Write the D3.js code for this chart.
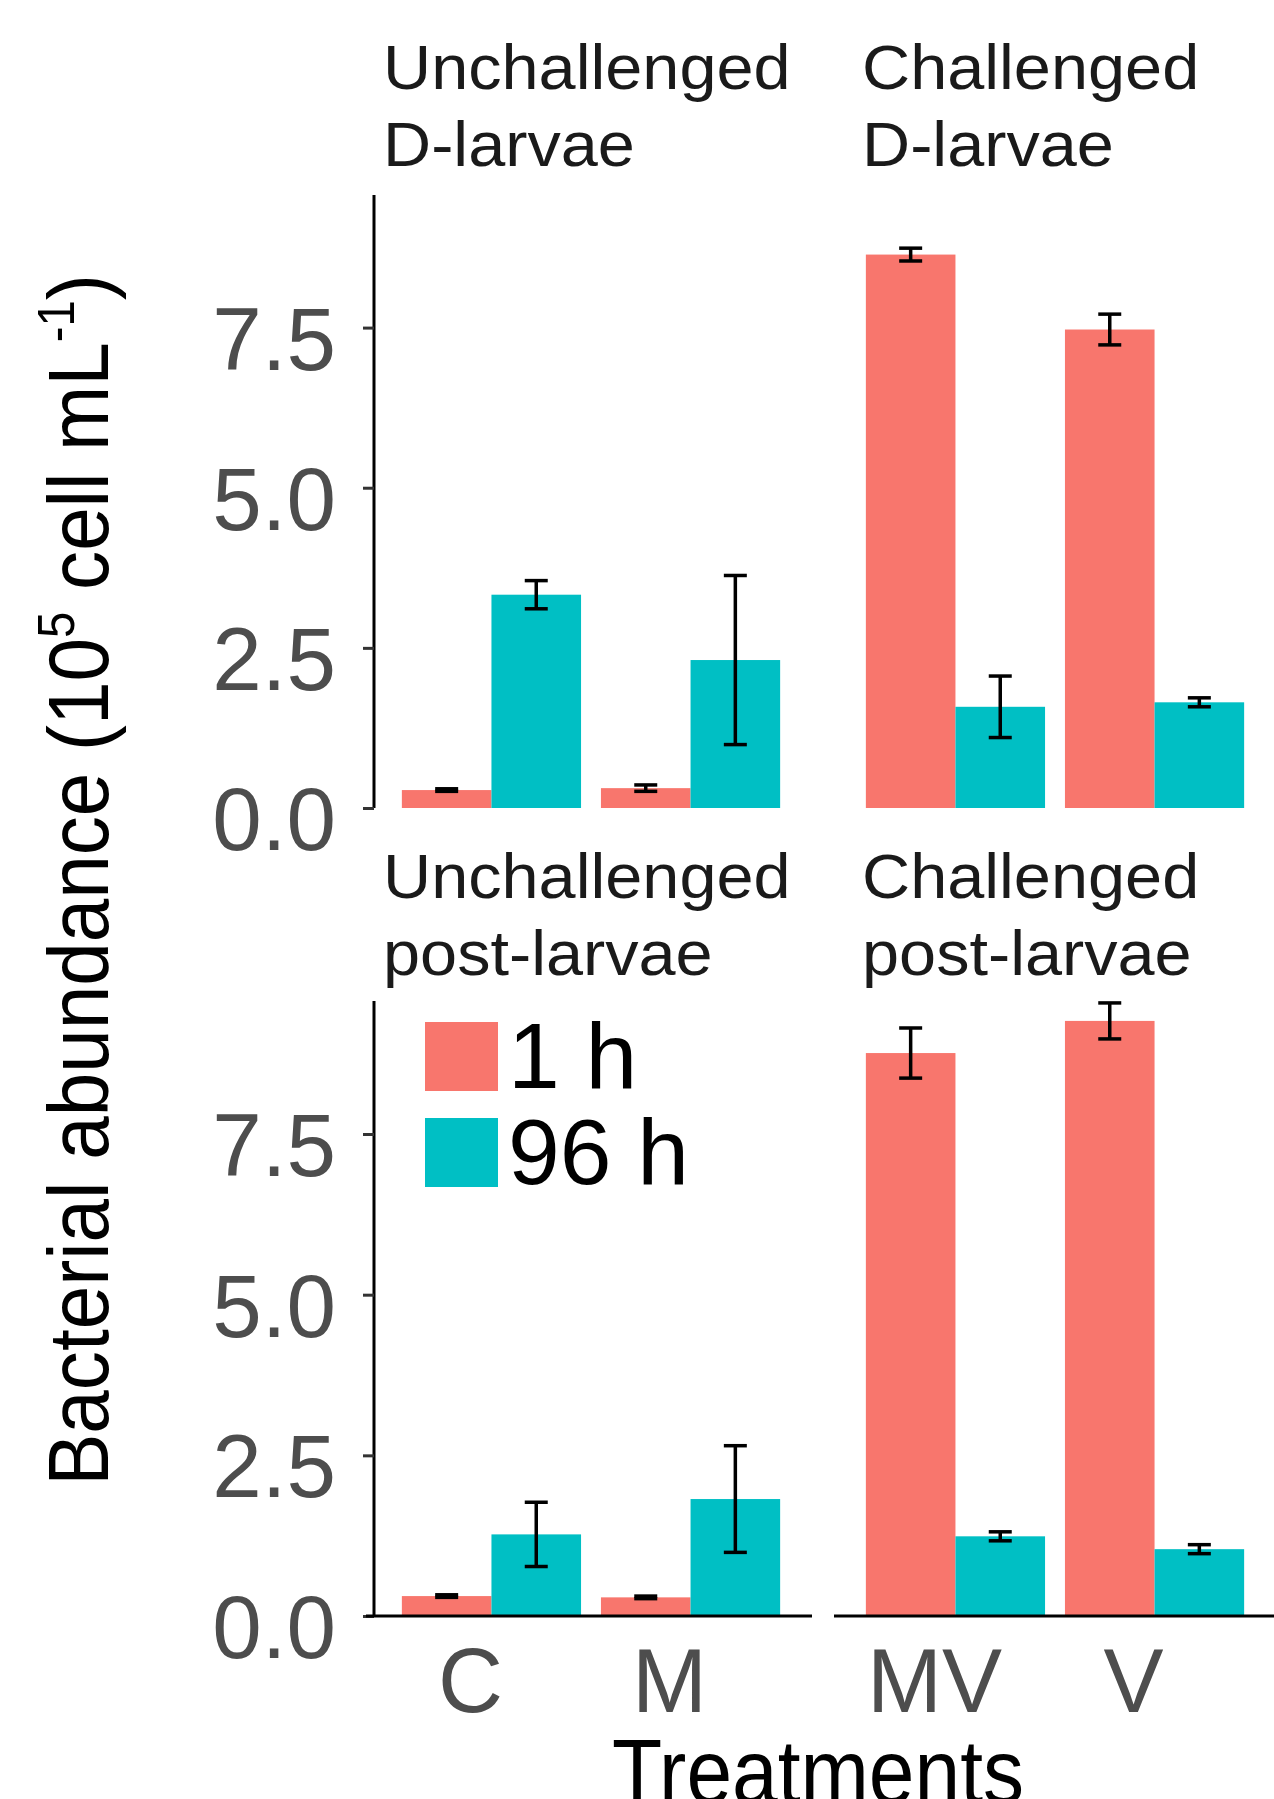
<!DOCTYPE html>
<html>
<head>
<meta charset="utf-8">
<script src="https://cdn.jsdelivr.net/npm/d3@7"></script>
<style>
  html, body { margin: 0; padding: 0; background: #ffffff; }
  svg { display: block; }
  text { font-family: "Liberation Sans", Arial, Helvetica, sans-serif; }
</style>
</head>
<body>
<svg id="chart" width="1274" height="1799"></svg>
<script>
// ---------------- data ----------------
const timePoints = ["1 h", "96 h"];
const unchallengedTreatments = ["C", "M"];
const challengedTreatments = ["MV", "V"];
const yTicks = [0, 2.5, 5, 7.5];
const yTickLabels = ["0.0", "2.5", "5.0", "7.5"];

// D-larvae, order C, M, MV, V
const dLarvae1h = [0.28, 0.31, 8.64, 7.47];
const dLarvae1hErr = [0.02, 0.05, 0.10, 0.24];
const dLarvae96h = [3.33, 2.31, 1.58, 1.65];
const dLarvae96hErr = [0.22, 1.32, 0.48, 0.07];

// post-larvae, order C, M, MV, V
const postLarvae1h = [0.31, 0.29, 8.76, 9.26];
const postLarvae1hErr = [0.02, 0.02, 0.39, 0.28];
const postLarvae96h = [1.27, 1.82, 1.24, 1.04];
const postLarvae96hErr = [0.50, 0.83, 0.07, 0.07];

const allTreatments = ["C", "M", "MV", "V"];
const stripLabels = [
  ["Unchallenged", "D-larvae"], ["Challenged", "D-larvae"],
  ["Unchallenged", "post-larvae"], ["Challenged", "post-larvae"]
];
const yTitle = "Bacterial abundance";
const xTitle = "Treatments";
const colors = ["#F8766D", "#00BFC4"];

// ---------------- layout ----------------
const svg = d3.select("#chart");
const yMax = 9.57;
const rows = [
  { top: 195, bottom: 808, v1: dLarvae1h, e1: dLarvae1hErr, v2: dLarvae96h, e2: dLarvae96hErr, stripBase: 89 },
  { top: 1001, bottom: 1616, v1: postLarvae1h, e1: postLarvae1hErr, v2: postLarvae96h, e2: postLarvae96hErr, stripBase: 898 }
];
const cols = [
  { left: 372, right: 810, cats: unchallengedTreatments, stripX: 383 },
  { left: 836, right: 1274, cats: challengedTreatments, stripX: 862 }
];
const labelShift = -21;

rows.forEach((row, ri) => {
  const y = d3.scaleLinear().domain([0, yMax]).range([row.bottom, row.top]);
  cols.forEach((col, ci) => {
    const g = svg.append("g");
    const x = d3.scaleBand().domain(col.cats).range([col.left, col.right])
      .paddingInner(0.1).paddingOuter(0.15);
    const xSub = d3.scaleBand().domain(timePoints).range([0, x.bandwidth()]).padding(0);

    const data = [];
    col.cats.forEach(cat => {
      const idx = allTreatments.indexOf(cat);
      data.push({ cat, t: timePoints[0], v: row.v1[idx], e: row.e1[idx] });
      data.push({ cat, t: timePoints[1], v: row.v2[idx], e: row.e2[idx] });
    });

    // bars
    g.selectAll("rect.bar").data(data).enter().append("rect")
      .attr("class", "bar")
      .attr("x", d => x(d.cat) + xSub(d.t))
      .attr("width", xSub.bandwidth())
      .attr("y", d => y(d.v))
      .attr("height", d => y(0) - y(d.v))
      .attr("fill", d => colors[timePoints.indexOf(d.t)]);

    // error bars
    const capHalf = 11.5;
    const sw = 3.5;
    const eb = g.selectAll("g.err").data(data).enter().append("g").attr("class", "err");
    eb.append("line")
      .attr("x1", d => x(d.cat) + xSub(d.t) + xSub.bandwidth() / 2)
      .attr("x2", d => x(d.cat) + xSub(d.t) + xSub.bandwidth() / 2)
      .attr("y1", d => y(d.v + d.e)).attr("y2", d => y(d.v - d.e))
      .attr("stroke", "#000").attr("stroke-width", sw);
    [1, -1].forEach(s => {
      eb.append("line")
        .attr("x1", d => x(d.cat) + xSub(d.t) + xSub.bandwidth() / 2 - capHalf)
        .attr("x2", d => x(d.cat) + xSub(d.t) + xSub.bandwidth() / 2 + capHalf)
        .attr("y1", d => y(d.v + s * d.e)).attr("y2", d => y(d.v + s * d.e))
        .attr("stroke", "#000").attr("stroke-width", sw);
    });

    // y axis (left column only)
    if (ci === 0) {
      const yAxis = d3.axisLeft(y).tickValues(yTicks)
        .tickFormat((d, i) => yTickLabels[i]).tickSize(11).tickSizeOuter(0);
      const ag = g.append("g").attr("transform", `translate(${col.left + 2},0)`).call(yAxis);
      ag.select(".domain").attr("stroke", "#000").attr("stroke-width", 3)
        .attr("d", `M0,${row.top}V${row.bottom}`);
      ag.selectAll(".tick line").attr("stroke", "#333").attr("stroke-width", 3);
      ag.selectAll(".tick text")
        .attr("x", -38).attr("dy", "0.32em").attr("y", 13)
        .attr("fill", "#4D4D4D").attr("font-size", 89)
        .style("font-family", '"Liberation Sans", Arial, sans-serif');
    }

    // x axis (bottom row only)
    if (ri === 1) {
      const xAxis = d3.axisBottom(x).tickSize(0).tickSizeOuter(0);
      const xg = g.append("g").attr("transform", `translate(0,${row.bottom})`).call(xAxis);
      xg.select(".domain").attr("stroke", "#000").attr("stroke-width", 3)
        .attr("d", `M${ci === 0 ? col.left - 6 : col.left - 2},0H${col.right + 2}`);
      xg.selectAll(".tick text")
        .attr("x", labelShift).attr("y", 96).attr("dy", 0)
        .attr("fill", "#4D4D4D").attr("font-size", 90)
        .style("font-family", '"Liberation Sans", Arial, sans-serif');
    }

    // strip labels (slightly wide face, as in the reference)
    const lines = stripLabels[ri * 2 + ci];
    const st = svg.append("text")
      .attr("transform", `translate(${col.stripX},${row.stripBase}) scale(1.058,1)`)
      .attr("fill", "#1A1A1A").attr("font-size", 63);
    st.append("tspan").attr("x", 0).text(lines[0]);
    st.append("tspan").attr("x", 0).attr("dy", 77).text(lines[1]);
  });
});

// legend inside bottom-left panel
const legend = svg.append("g");
const legendY = [1022, 1118];
timePoints.forEach((t, i) => {
  legend.append("rect").attr("x", 425).attr("y", legendY[i])
    .attr("width", 73).attr("height", 69).attr("fill", colors[i]);
  legend.append("text").attr("x", 508).attr("y", legendY[i] + 66)
    .attr("font-size", 93).attr("fill", "#000").text(t);
});

// y title
const yt = svg.append("text").attr("font-size", 86).attr("fill", "#000")
  .attr("text-anchor", "middle");
yt.append("tspan").text(yTitle + " (10");
yt.append("tspan").attr("font-size", 52).attr("dy", -34).text("5");
yt.append("tspan").attr("dy", 34).text(" cell mL");
yt.append("tspan").attr("font-size", 52).attr("dy", -34).text("-1");
yt.append("tspan").attr("dy", 34).text(")");
const ytLen = yt.node().getComputedTextLength();
const ytScale = 1212 / ytLen;
yt.attr("transform", `translate(108,880) rotate(-90) scale(${ytScale},1)`);

// x title
const xt = svg.append("text").attr("font-size", 90).attr("fill", "#000")
  .attr("text-anchor", "middle").text(xTitle);
const xtLen = xt.node().getComputedTextLength();
xt.attr("transform", `translate(818,1803) scale(${412 / xtLen},1)`);
</script>
</body>
</html>
